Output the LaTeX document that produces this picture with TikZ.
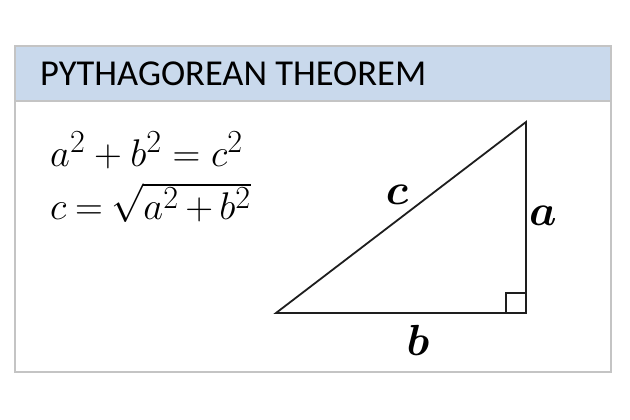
\documentclass[tikz,border=0pt]{standalone}
\usepackage{amsmath}
\usepackage{fontspec}
\newfontfamily\titlefont{Carlito}
\definecolor{hdrblue}{RGB}{201,217,236}
\definecolor{bordergray}{RGB}{196,196,196}
\definecolor{linedark}{RGB}{30,30,30}
\newcommand{\lblbig}[1]{\scalebox{1.75}{\fontsize{24.88}{28}\selectfont$\boldsymbol{#1}$}}
\begin{document}
\begin{tikzpicture}[x=1pt,y=-1pt,
  frame/.style={draw=bordergray,line width=2pt},
  edge/.style={draw=linedark,line width=1.8pt},
  lbl/.style={inner sep=0pt},
  eq/.style={inner sep=0pt,anchor=base west}]
\useasboundingbox (0,0) rectangle (630,420);
\fill[white] (0,0) rectangle (630,420);
\fill[hdrblue] (15,46) rectangle (611,101);
\draw[frame] (15,46) rectangle (611,372);
\draw[frame] (15,101) -- (611,101);
\node[anchor=base west,inner sep=0pt,font=\titlefont\fontsize{36.5}{40}\selectfont] (title) at (40,85) {PYTHAGOREAN THEOREM};
\node[eq] (eqs) at (50,166) {\scalebox{1.55}{\fontsize{24.88}{34.8}\selectfont
  \begin{tabular}[t]{@{}l@{}}
  $a^2+b^2=c^2$\\
  $\thickmuskip=4mu\medmuskip=3mu c=\smash[t]{\sqrt{a^2+b^2}}$
  \end{tabular}}};
\coordinate (A) at (276,313);
\coordinate (B) at (526,122);
\coordinate (C) at (526,313);
\draw[edge,line join=miter] (A) -- (B) -- (C) -- cycle;
\draw[edge] (506,313) -- (506,293) -- (526,293);
\node[lbl] (lc) at (397,195) {\lblbig{c}};
\node[lbl] (la) at (543,216) {\lblbig{a}};
\node[lbl] (lb) at (418,340) {\lblbig{b}};
\end{tikzpicture}
\end{document}
